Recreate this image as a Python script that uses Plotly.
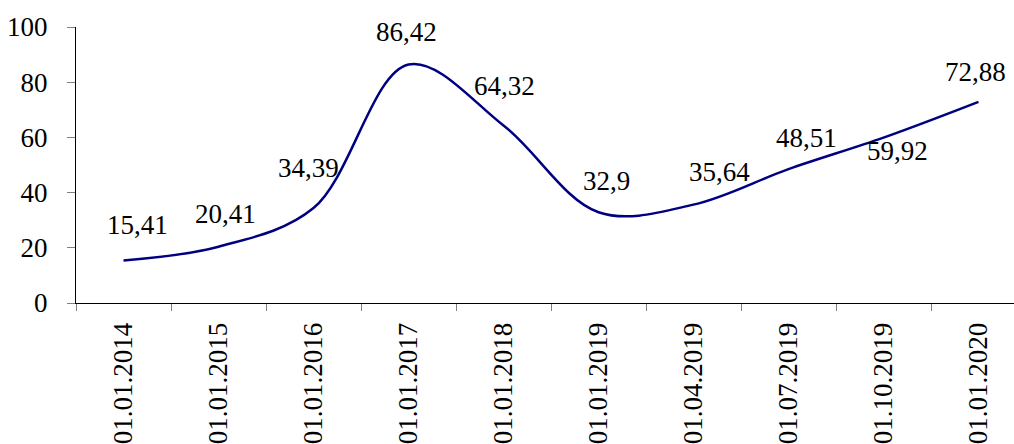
import plotly.graph_objects as go

categories = ["01.01.2014", "01.01.2015", "01.01.2016", "01.01.2017", "01.01.2018",
              "01.01.2019", "01.04.2019", "01.07.2019", "01.10.2019", "01.01.2020"]
values = [15.41, 20.41, 34.39, 86.42, 64.32, 32.9, 35.64, 48.51, 59.92, 72.88]
value_labels = ["15,41", "20,41", "34,39", "86,42", "64,32", "32,9", "35,64", "48,51", "59,92", "72,88"]
y_ticks = [0, 20, 40, 60, 80, 100]

# label offsets in pixels (style only)
label_dx = [14, 7, -5, -2, 1, 8, 26, 18, 14, -3]
label_dy = [35, 33, 40, 32, 39, 31, 33, 31, -13, 30]

FONT = "Liberation Serif"

fig = go.Figure()
fig.add_trace(go.Scatter(
    x=categories, y=values, mode="lines",
    line=dict(color="#000080", width=2.5, shape="spline", smoothing=1.0),
    hoverinfo="skip", showlegend=False,
))

for c, v, t, dx, dy in zip(categories, values, value_labels, label_dx, label_dy):
    fig.add_annotation(x=c, y=v, text=t, showarrow=False, xshift=dx, yshift=dy,
                       font=dict(family=FONT, size=27, color="black"))

L, T, B = 76, 27, 141
W, H = 1014, 444
step = 95.0
n_span = (W - L) / step

fig.update_layout(
    width=W, height=H,
    margin=dict(l=L, r=0, t=T, b=B, pad=0),
    paper_bgcolor="white", plot_bgcolor="white",
    font=dict(family=FONT, size=27, color="black"),
    xaxis=dict(
        type="category", range=[-0.5, -0.5 + n_span],
        tickson="boundaries", ticks="outside", ticklen=7, tickcolor="#808080", tickwidth=1,
        showline=True, linecolor="black", linewidth=1, showgrid=False, zeroline=False,
        tickangle=-90, tickfont=dict(family=FONT, size=27, color="black"),
        ticklabelstandoff=8,
    ),
    yaxis=dict(
        range=[0, 100], tickvals=y_ticks, ticks="outside", ticklen=8, tickcolor="#808080",
        tickwidth=1, showline=True, linecolor="black", linewidth=1, showgrid=False,
        zeroline=False, tickfont=dict(family=FONT, size=27, color="black"),
        ticklabelstandoff=14,
    ),
)

fig.write_html("out.html")
